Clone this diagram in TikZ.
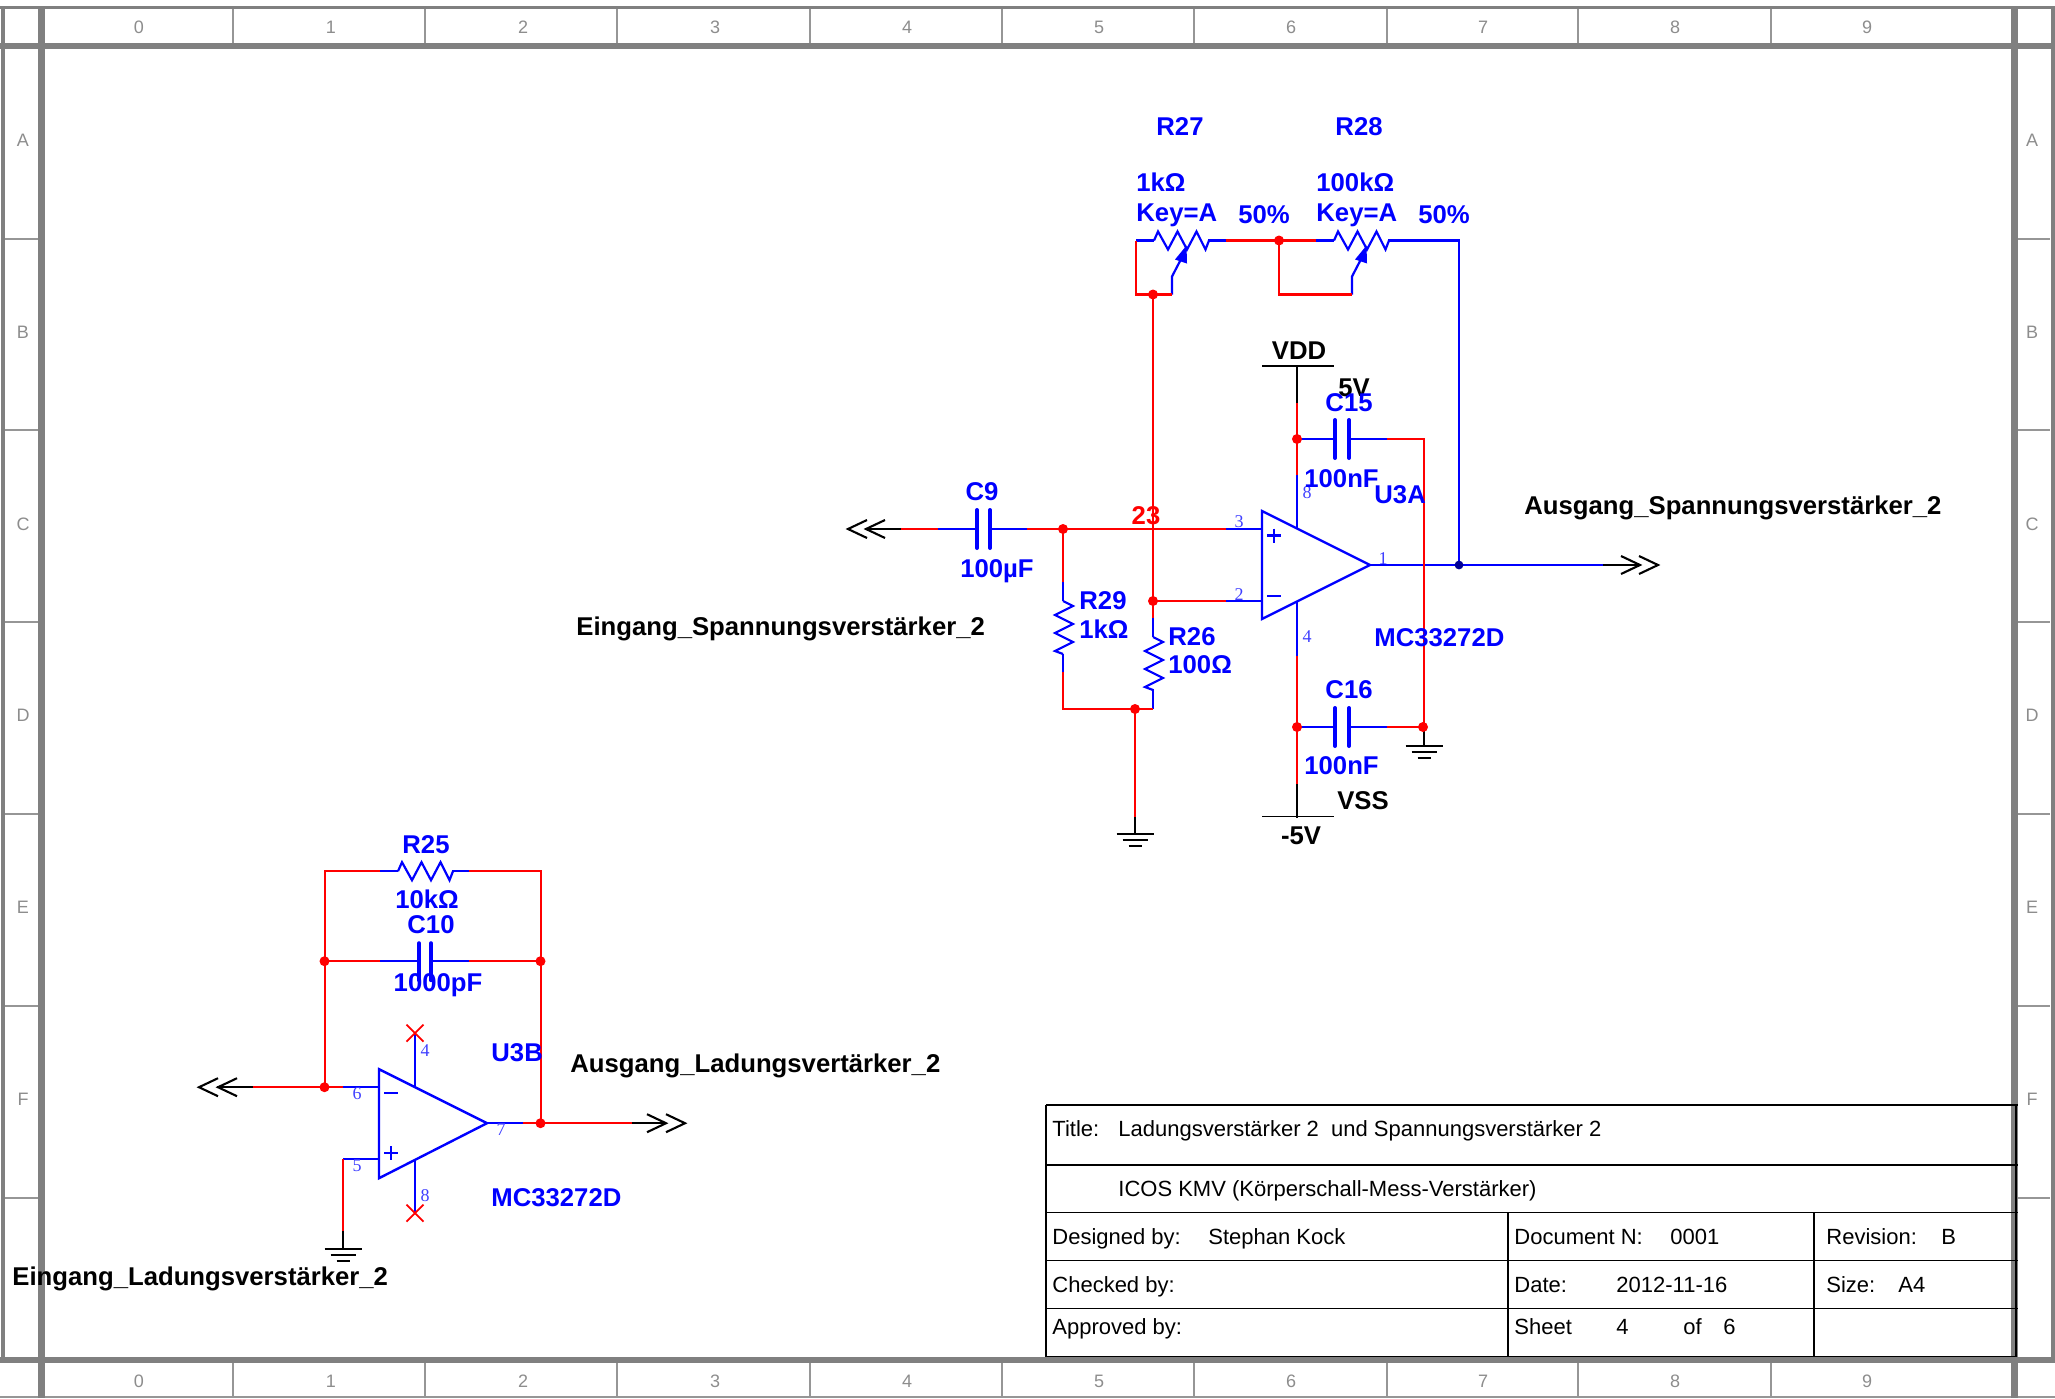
\documentclass[tikz,border=0pt]{standalone}
\usepackage{fontspec}
\setmainfont{Liberation Sans}
\newfontfamily\pinfont{Liberation Serif}
\definecolor{wred}{RGB}{255,0,0}
\definecolor{wblue}{RGB}{0,0,255}
\definecolor{dblue}{RGB}{0,0,150}
\definecolor{fgray}{RGB}{128,128,128}
\definecolor{lgray}{RGB}{150,150,150}
\tikzset{
  wr/.style={draw=wred,line width=1.1pt,line join=miter},
  wb/.style={draw=wblue,line width=1.1pt,line join=miter},
  wk/.style={draw=black,line width=1.05pt,line join=miter},
  thinblk/.style={draw=black,line width=0.55pt},
  plate/.style={draw=wblue,line width=2pt,line cap=round},
  opamp/.style={draw=wblue,line width=1.2pt,line join=miter},
  dot/.style={circle,fill=wred,inner sep=0pt,minimum width=4.2pt,minimum height=5pt},
  dotb/.style={circle,fill=dblue,inner sep=0pt,minimum width=4.4pt,minimum height=4.4pt},
  lb/.style={inner sep=0pt,yshift=-1.2pt,text height=0.716em,text depth=0pt,font=\fontsize{12.85}{14}\selectfont\bfseries,text=wblue},
  lk/.style={lb,text=black},
  lr/.style={lb,text=wred},
  tt/.style={inner sep=0pt,anchor=west,yshift=-0.4pt,text height=0.716em,text depth=0pt,font=\fontsize{11}{13}\selectfont,text=black},
  pin/.style={inner sep=0pt,font=\fontsize{9}{10}\selectfont\pinfont,text=wblue!75!white},
  grid/.style={inner sep=0pt,font=\fontsize{9}{10}\selectfont,text=fgray!90!white},
  frm/.style={draw=fgray},
  div/.style={draw=lgray,line width=1pt},
  tb/.style={draw=black,line width=0.95pt},
  xm/.style={draw=wred,line width=0.9pt}
}
\newcommand{\resH}[2]{\draw[wb] (#1,#2) -- ++(4,-9) -- ++(10,18) -- ++(9.5,-18) -- ++(9.5,18) -- ++(9.5,-18) -- ++(9,18) -- ++(3.5,-9);}
\newcommand{\resV}[2]{\draw[wb] (#1,#2) -- ++(10,5) -- ++(-18,9) -- ++(18,9) -- ++(-18,9) -- ++(18,9) -- ++(-18,9) -- ++(8,3);}
\newcommand{\chevR}[2]{\draw[wk] (#1-19,#2-9) -- (#1,#2) -- (#1-19,#2+9);}
\newcommand{\chevL}[2]{\draw[wk] (#1+19,#2-9) -- (#1,#2) -- (#1+19,#2+9);}
\newcommand{\gnd}[2]{\draw[thinblk,line width=0.85pt] (#1-18.5,#2) -- (#1+18.5,#2) (#1-12.5,#2+6) -- (#1+12.5,#2+6) (#1-6.5,#2+12) -- (#1+6.5,#2+12);}
\newcommand{\wiper}[2]{\draw[wb] (#1,#2) -- ++(0,-18) -- ++(14,-27);
  \fill[wblue] (#1+14.5,#2-49) -- (#1+3,#2-35) -- (#1+15,#2-31) -- cycle;}
\newcommand{\nc}[2]{\draw[xm] (#1-8.5,#2-8.5) -- (#1+8.5,#2+8.5) (#1+8.5,#2-8.5) -- (#1-8.5,#2+8.5);}
\begin{document}
\begin{tikzpicture}[x=0.5pt,y=-0.5pt]
\useasboundingbox (0,0) rectangle (2055,1398);
\fill[white] (0,0) rectangle (2055,1398);
% frame
\foreach \x in {233,425,617,810,1002,1194,1387,1578,1771}{
  \draw[div] (\x,9) -- (\x,43);
  \draw[div] (\x,1363) -- (\x,1396);}
\foreach \y in {239,430,622,814,1006,1198}{
  \draw[div] (4,\y) -- (39,\y);
  \draw[div] (2017,\y) -- (2050,\y);}
\draw[div] (0,1397) -- (2055,1397);
\draw[frm,line width=1.6pt] (0,7.5) -- (2055,7.5);
\draw[frm,line width=1.6pt] (3,6) -- (3,1360);
\draw[frm,line width=2pt] (2052.5,6) -- (2052.5,1360);
\draw[frm,line width=3.2pt] (0,46) -- (2055,46);
\draw[frm,line width=3.2pt] (0,1360) -- (2055,1360);
\draw[frm,line width=3.2pt] (41.5,6) -- (41.5,1398);
\draw[frm,line width=3.2pt] (2014.5,6) -- (2014.5,1398);
\foreach \n/\x in {0/139,1/331,2/523,3/715,4/907,5/1099,6/1291,7/1483,8/1675,9/1867}{
  \node[grid] (gt\n) at (\x,27) {\n};
  \node[grid] (gb\n) at (\x,1381) {\n};}
\foreach \n/\y in {A/140,B/332,C/524,D/715,E/907,F/1099}{
  \node[grid] (gl\n) at (23,\y) {\n};
  \node[grid] (gr\n) at (2032,\y) {\n};}
% title block
\draw[tb] (1046,1105) -- (2018,1105);
\draw[tb] (1046,1165) -- (2018,1165);
\draw[tb] (1046,1212.5) -- (2018,1212.5);
\draw[tb] (1046,1260.5) -- (2018,1260.5);
\draw[tb] (1046,1308.5) -- (2018,1308.5);
\draw[tb] (1046,1356.5) -- (2016,1356.5);
\draw[tb] (1046,1105) -- (1046,1356.5);
\draw[tb] (2016,1105) -- (2016,1356.5);
\draw[tb] (1508,1212.5) -- (1508,1356.5);
\draw[tb] (1814,1212.5) -- (1814,1356.5);
\node[tt] (t1) at (1052,1129) {Title:};
\node[tt] (t2) at (1118,1129) {Ladungsverstärker 2\ \ und Spannungsverstärker 2};
\node[tt] (t3) at (1118,1189) {ICOS KMV (Körperschall-Mess-Verstärker)};
\node[tt] (t4) at (1052,1237) {Designed by:};
\node[tt] (t5) at (1208,1237) {Stephan Kock};
\node[tt] (t6) at (1514,1237) {Document N:};
\node[tt] (t7) at (1670,1237) {0001};
\node[tt] (t8) at (1826,1237) {Revision:};
\node[tt] (t9) at (1941,1237) {B};
\node[tt] (t10) at (1052,1285) {Checked by:};
\node[tt] (t11) at (1514,1285) {Date:};
\node[tt] (t12) at (1616,1285) {2012-11-16};
\node[tt] (t13) at (1826,1285) {Size:};
\node[tt] (t14) at (1898,1285) {A4};
\node[tt] (t15) at (1052,1327) {Approved by:};
\node[tt] (t16) at (1514,1327) {Sheet};
\node[tt] (t17) at (1616,1327) {4};
\node[tt] (t18) at (1683,1327) {of};
\node[tt] (t19) at (1723,1327) {6};
% ---- coordinates: upper circuit
\coordinate (aL) at (1136,240.5);
\coordinate (aLb) at (1136,294.5);
\coordinate (r27a) at (1154,240.5);
\coordinate (r27b) at (1208,240.5);
\coordinate (r27c) at (1226,240.5);
\coordinate (n1) at (1279,240.5);
\coordinate (n1b) at (1279,294.5);
\coordinate (r28l) at (1316,240.5);
\coordinate (r28a) at (1334,240.5);
\coordinate (r28b) at (1388,240.5);
\coordinate (r28c) at (1406,240.5);
\coordinate (fbT) at (1459,240.5);
\coordinate (w27) at (1172,294.5);
\coordinate (w28) at (1352,294.5);
\coordinate (nA) at (1153,294.5);
\coordinate (nB) at (1153,601);
\coordinate (r26t) at (1153,618);
\coordinate (r26b) at (1153,709);
\coordinate (nD) at (1135,709);
\coordinate (r29b) at (1063,709);
\coordinate (r29m) at (1063,672);
\coordinate (r29t) at (1063,582);
\coordinate (nE) at (1063,529);
\coordinate (gnd1) at (1135,817);
\coordinate (gnd1b) at (1135,834);
\coordinate (c9a) at (901,529);
\coordinate (c9b) at (938,529);
\coordinate (c9p1) at (977,529);
\coordinate (c9p2) at (990,529);
\coordinate (c9c) at (1027,529);
\coordinate (c9tip) at (866,529);
\coordinate (i3) at (1226,529);
\coordinate (i3b) at (1262,529);
\coordinate (i2) at (1226,601);
\coordinate (i2b) at (1262,601);
\coordinate (ua1) at (1262,511);
\coordinate (ua2) at (1262,619);
\coordinate (ua3) at (1370,565);
\coordinate (p8a) at (1297,529);
\coordinate (p8b) at (1297,475);
\coordinate (nF) at (1297,439);
\coordinate (p8c) at (1297,403);
\coordinate (vdd) at (1297,366);
\coordinate (c15a) at (1335,439);
\coordinate (c15b) at (1349,439);
\coordinate (c15c) at (1387,439);
\coordinate (gndr) at (1424,439);
\coordinate (nG) at (1424,727);
\coordinate (gnd2) at (1424,746);
\coordinate (c16c) at (1387,727);
\coordinate (c16b) at (1349,727);
\coordinate (c16a) at (1335,727);
\coordinate (nH) at (1297,727);
\coordinate (p4a) at (1297,601);
\coordinate (p4b) at (1297,656);
\coordinate (p4c) at (1297,784);
\coordinate (vss) at (1297,818);
\coordinate (out) at (1370,565);
\coordinate (nJ) at (1459,565);
\coordinate (outb) at (1603,565);
\coordinate (outt) at (1640,565);
% blue wires first
\draw[wb] (out) -- (nJ) -- (outb);
\draw[wb] (r28b) -- (r28c) -- (fbT) -- (nJ);
\draw[wb] (aL) -- (r27a);
\draw[wb] (r27b) -- (r27c);
\draw[wb] (r28l) -- (r28a);
\resH{1154}{240.5}
\resH{1334}{240.5}
\wiper{1172}{294.5}
\wiper{1352}{294.5}
\draw[wr] (aL) -- (aLb) -- (w27);
\draw[wr] (r27c) -- (r28l);
\draw[wr] (n1) -- (n1b) -- (w28);
\draw[wr] (nA) -- (r26t);
\draw[wb] (r26t) -- (1153,637);
\resV{1153}{637}
\draw[wb] (1153,689) -- (r26b);
\draw[wr] (r26b) -- (r29b) -- (r29m);
\draw[wb] (r29m) -- (1063,654);
\draw[wb] (1063,582) -- (1063,601);
\resV{1063}{601}
\draw[wr] (r29t) -- (nE);
\draw[wr] (nD) -- (gnd1);
\draw[wk] (gnd1) -- (gnd1b);
\gnd{1135}{834}
\draw[wk] (c9tip) -- (c9a);
\chevL{848}{529}
\chevL{866}{529}
\draw[wr] (c9a) -- (c9b);
\draw[wb] (c9b) -- (c9p1);
\draw[wb] (c9p2) -- (c9c);
\draw[plate] (977,510) -- (977,548);
\draw[plate] (990,510) -- (990,548);
\draw[wr] (c9c) -- (i3);
\draw[wb] (i3) -- (i3b);
\draw[wr] (nB) -- (i2);
\draw[wb] (i2) -- (i2b);
\draw[opamp] (ua1) -- (ua2) -- (ua3) -- cycle;
\draw[wb,line width=1.1pt] (1267,535.5) -- (1281,535.5) (1274,528.5) -- (1274,542.5);
\draw[wb,line width=1.1pt] (1267,596) -- (1281,596);
\draw[wb] (p8a) -- (p8b);
\draw[wr] (p8b) -- (p8c);
\draw[wk] (p8c) -- (vdd);
\draw[thinblk] (1262,366) -- (1334,366);
\draw[wb] (nF) -- (c15a);
\draw[wb] (c15b) -- (c15c);
\draw[plate] (1335,420) -- (1335,458);
\draw[plate] (1349,420) -- (1349,458);
\draw[wr] (c15c) -- (gndr) -- (nG);
\draw[wk] (nG) -- (gnd2);
\gnd{1424}{746}
\draw[wr] (c16c) -- (nG);
\draw[wb] (c16b) -- (c16c);
\draw[wb] (nH) -- (c16a);
\draw[plate] (1335,708) -- (1335,746);
\draw[plate] (1349,708) -- (1349,746);
\draw[wb] (p4a) -- (p4b);
\draw[wr] (p4b) -- (p4c);
\draw[wk] (p4c) -- (vss);
\draw[thinblk] (1262,816.5) -- (1334,816.5);
\draw[wk] (outb) -- (outt);
\chevR{1640}{565}
\chevR{1658}{565}
\node[dot] (jA) at (nA) {};
\node[dot] (jB) at (nB) {};
\node[dot] (jD) at (nD) {};
\node[dot] (jE) at (nE) {};
\node[dot] (jF) at (nF) {};
\node[dot] (jG) at (1423,727) {};
\node[dot] (jH) at (nH) {};
\node[dot] (jN) at (n1) {};
\node[dotb] (jJ) at (nJ) {};
% ---- lower circuit
\begin{scope}[yshift=-0.6pt]
\coordinate (ib1) at (217,1086);
\coordinate (ib2) at (253,1086);
\coordinate (nK) at (325,1086);
\coordinate (ib3) at (343,1086);
\coordinate (ib4) at (379,1086);
\coordinate (nL) at (325,960);
\coordinate (tl) at (325,870);
\coordinate (r25a) at (380,870);
\coordinate (r25b) at (398,870);
\coordinate (r25c) at (452,870);
\coordinate (r25d) at (469,870);
\coordinate (tr) at (541,870);
\coordinate (nM) at (541,960);
\coordinate (nP) at (541,1122);
\coordinate (c10a) at (380,960);
\coordinate (c10b) at (419,960);
\coordinate (c10c) at (431,960);
\coordinate (c10d) at (469,960);
\coordinate (ub1) at (379,1068);
\coordinate (ub2) at (379,1177);
\coordinate (ub3) at (487,1122);
\coordinate (o1) at (523,1122);
\coordinate (o2) at (632,1122);
\coordinate (o3) at (666,1122);
\coordinate (p5a) at (379,1158);
\coordinate (p5b) at (343,1158);
\coordinate (p5c) at (343,1230);
\coordinate (p5d) at (343,1248);
\coordinate (pt1) at (415,1086);
\coordinate (pt2) at (415,1032);
\coordinate (pb1) at (415,1158);
\coordinate (pb2) at (415,1212);
\draw[wk] (ib1) -- (ib2);
\chevL{199}{1086}
\chevL{218}{1086}
\draw[wr] (ib2) -- (ib3);
\draw[wb] (ib3) -- (ib4);
\draw[wr] (nK) -- (tl) -- (r25a);
\draw[wb] (r25a) -- (r25b);
\resH{398}{870}
\draw[wb] (r25c) -- (r25d);
\draw[wr] (r25d) -- (tr) -- (nP);
\draw[wr] (nL) -- (c10a);
\draw[wb] (c10a) -- (c10b);
\draw[wb] (c10c) -- (c10d);
\draw[wr] (c10d) -- (nM);
\draw[plate] (419,942) -- (419,979);
\draw[plate] (431,942) -- (431,979);
\draw[opamp] (ub1) -- (ub2) -- (ub3) -- cycle;
\draw[wb,line width=1.1pt] (384,1092) -- (398,1092);
\draw[wb,line width=1.1pt] (384,1152) -- (398,1152) (391,1145) -- (391,1159);
\draw[wb] (ub3) -- (o1);
\draw[wr] (o1) -- (o2);
\draw[wk] (o2) -- (o3);
\chevR{666}{1122}
\chevR{685}{1122}
\draw[wb] (p5a) -- (p5b);
\draw[wr] (p5b) -- (p5c);
\draw[wk] (p5c) -- (p5d);
\gnd{343}{1248}
\draw[wb] (pt1) -- (pt2);
\draw[wb] (pb1) -- (pb2);
\nc{415}{1032}
\nc{415}{1212}
\node[dot] (jK) at (324.5,1086) {};
\node[dot] (jL) at (324.5,960) {};
\node[dot] (jM) at (540.5,960) {};
\node[dot] (jP) at (540.5,1122) {};
\node[pin] (pb6) at (357,1092) {6};
\node[pin] (pb5) at (357,1164) {5};
\node[pin] (pb7) at (501,1128) {7};
\node[pin] (pb4) at (425,1049) {4};
\node[pin] (pb8) at (425,1194) {8};
\end{scope}
% pin numbers
\node[pin] (pa3) at (1239,522) {3};
\node[pin] (pa2) at (1239,595) {2};
\node[pin] (pa1) at (1383,559) {1};
\node[pin] (pa8) at (1307,493) {8};
\node[pin] (pa4) at (1307,637) {4};
% labels
\node[lb] (R27) at (1180,126) {R27};
\node[lb] (R28) at (1359,126) {R28};
\node[lb,anchor=west] (v27) at (1136,182) {1kΩ};
\node[lb,anchor=west] (k27) at (1136,212) {Key=A};
\node[lb,anchor=west] (p27) at (1238,214) {50\%};
\node[lb,anchor=west] (v28) at (1316,182) {100kΩ};
\node[lb,anchor=west] (k28) at (1316,212) {Key=A};
\node[lb,anchor=west] (p28) at (1418,214) {50\%};
\node[lk] (VDD) at (1299,350) {VDD};
\node[lk] (V5) at (1354,387) {5V};
\node[lb] (C15) at (1349,402) {C15};
\node[lb,anchor=west] (v15) at (1304,478) {100nF};
\node[lb,anchor=west] (U3A) at (1374,494) {U3A};
\node[lb,anchor=west] (MCa) at (1374,637) {MC33272D};
\node[lb] (C16) at (1349,689) {C16};
\node[lb,anchor=west] (v16) at (1304,765) {100nF};
\node[lk] (VSS) at (1363,800) {VSS};
\node[lk] (Vm5) at (1301,835) {-5V};
\node[lr] (n23) at (1146,515) {23};
\node[lb] (C9) at (982,491) {C9};
\node[lb] (v9) at (997,568) {100µF};
\node[lb,anchor=west] (R29) at (1079,600) {R29};
\node[lb,anchor=west] (v29) at (1079,629) {1kΩ};
\node[lb,anchor=west] (R26) at (1168,636) {R26};
\node[lb,anchor=west] (v26) at (1168,664) {100Ω};
\node[lk,anchor=west] (AS) at (1524,505) {Ausgang\_Spannungsverstärker\_2};
\node[lk,anchor=west] (ES) at (576,626) {Eingang\_Spannungsverstärker\_2};
\node[lb] (R25) at (426,844) {R25};
\node[lb] (v25) at (427,899) {10kΩ};
\node[lb] (C10) at (431,924) {C10};
\node[lb] (v10) at (438,982) {1000pF};
\node[lb,anchor=west] (U3B) at (491,1052) {U3B};
\node[lk,anchor=west] (AL) at (570,1063) {Ausgang\_Ladungsvertärker\_2};
\node[lb,anchor=west] (MCb) at (491,1197) {MC33272D};
\node[lk,anchor=west] (EL) at (12,1276) {Eingang\_Ladungsverstärker\_2};
\end{tikzpicture}
\end{document}
